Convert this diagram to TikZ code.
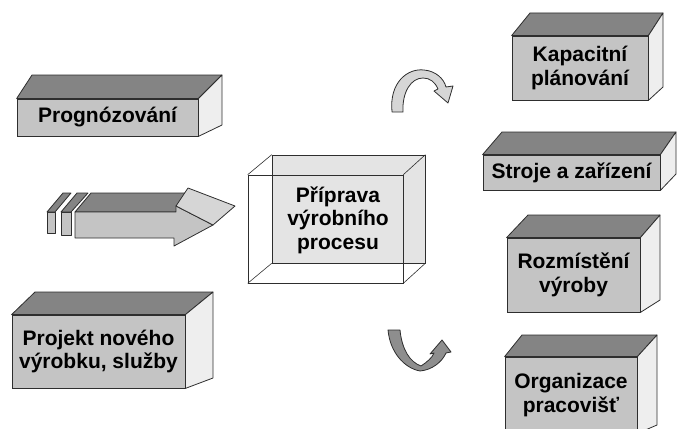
\documentclass[tikz,border=0pt]{standalone}
\usepackage{fontspec}
\setmainfont{Liberation Sans}
\begin{document}
\definecolor{edge}{HTML}{2E2E2E}
\definecolor{frontgray}{HTML}{C4C4C4}
\definecolor{topgray}{HTML}{848484}
\definecolor{sidegray}{HTML}{EEEEEE}
\definecolor{backgray}{HTML}{E4E4E4}
\definecolor{darkarrow}{HTML}{8E8E8E}
\definecolor{lightarrow}{HTML}{D6D6D6}
\tikzset{
  boxfont/.style={font=\bfseries\fontsize{21}{23.5}\selectfont},
  front/.style={draw=edge, fill=frontgray, line width=0.8pt, inner sep=0pt,
                align=center, boxfont},
  topface/.style={draw=edge, fill=topgray, line width=0.8pt, line join=round},
  sideface/.style={draw=edge, fill=sidegray, line width=0.8pt, line join=round},
  wire/.style={draw=edge, line width=0.6pt},
  label/.style={align=center, inner sep=0pt, boxfont},
  shape3d/.style={draw=edge, line width=0.8pt, line join=round},
}
% top and right faces of a solid block whose front face is node #1;
% #2,#3 = back x left/right, #4 = back top y, #5 = back bottom y
\newcommand\blockfaces[5]{%
  \path[topface] (#1.north west) -- (#2,#4) -- (#3,#4) -- (#1.north east) -- cycle;
  \path[sideface] (#1.north east) -- (#3,#4) -- (#3,#5) -- (#1.south east) -- cycle;}
\begin{tikzpicture}[x=1pt, y=-1pt]
\useasboundingbox (0,0) rectangle (679,428);
\clip (0,0) rectangle (679,428);

% left column
\node[front, minimum width=181pt, minimum height=37pt] (progn) at (107.5,117.5) {Prognózování};
\blockfaces{progn}{32}{222}{75}{125}

\node[front, minimum width=173pt, minimum height=73pt] (proj) at (98.5,351.5) {Projekt nového\\výrobku, služby};
\blockfaces{proj}{35}{213}{292}{378}

% extruded arrow pointing to the centre
\path[shape3d, fill=frontgray] (47,212) rectangle (55,233);
\path[shape3d, fill=topgray] (47,212) -- (63,193) -- (71,193) -- (55,212) -- cycle;
\path[shape3d, fill=frontgray] (61,212) rectangle (71,235);
\path[shape3d, fill=topgray] (61,212) -- (77,193) -- (88,193) -- (71,212) -- cycle;
\path[shape3d, fill=topgray] (75,212) -- (91,193) -- (192,193) -- (176,212) -- cycle;
\path[shape3d, fill=frontgray] (75,212) -- (176,212) -- (176,206) -- (213,225)
      -- (174,246) -- (174,238) -- (75,238) -- cycle;
\path[shape3d, fill=lightarrow] (176,206) -- (188,188) -- (235,206) -- (213,225) -- cycle;

% central transparent block
\node[wire, fill=backgray, minimum width=153pt, minimum height=108pt, inner sep=0pt] (prepback) at (348.5,209) {};
\node[wire, minimum width=155pt, minimum height=108pt, inner sep=0pt] (prepfront) at (325.5,229) {};
\draw[wire] (prepfront.north west) -- (prepback.north west);
\draw[wire] (prepfront.north east) -- (prepback.north east);
\draw[wire] (prepfront.south west) -- (prepback.south west);
\draw[wire] (prepfront.south east) -- (prepback.south east);
\node[label] (prep) at (338,220) {Příprava\\výrobního\\procesu};

% curved arrows
\path[shape3d, fill=lightarrow] (392,112) .. controls (389,82) and (408,68) .. (424,70)
      .. controls (436,71) and (444,79) .. (446,87) -- (453,86) -- (448,103)
      -- (434,91) -- (438,89) .. controls (435,82) and (430,78) .. (423,78)
      .. controls (411,78) and (402,92) .. (403,112) -- cycle;
\path[shape3d, fill=darkarrow] (388,330) -- (400,330) .. controls (402,350) and (410,362) .. (421,366)
      .. controls (427,362) and (432,358) .. (434,353) -- (430,354) -- (442,340)
      -- (451,352) -- (446,353) .. controls (442,362) and (432,370) .. (420,371)
      .. controls (404,368) and (390,352) .. (388,330) -- cycle;

% right column
\node[front, minimum width=136pt, minimum height=64pt] (kap) at (580,68) {Kapacitní\\plánování};
\blockfaces{kap}{530}{663}{13}{87}

\node[front, minimum width=177pt, minimum height=35pt] (stroje) at (571.5,172.5) {Stroje a zařízení};
\blockfaces{stroje}{502}{676}{132}{174}

\node[front, minimum width=133pt, minimum height=74pt] (rozm) at (573.5,275) {Rozmístění\\výroby};
\blockfaces{rozm}{528}{660}{215}{300}

\node[front, minimum width=132pt, minimum height=76pt] (org) at (571,395) {Organizace\\pracovišť};
\blockfaces{org}{522}{657}{335}{425}
\end{tikzpicture}
\end{document}
